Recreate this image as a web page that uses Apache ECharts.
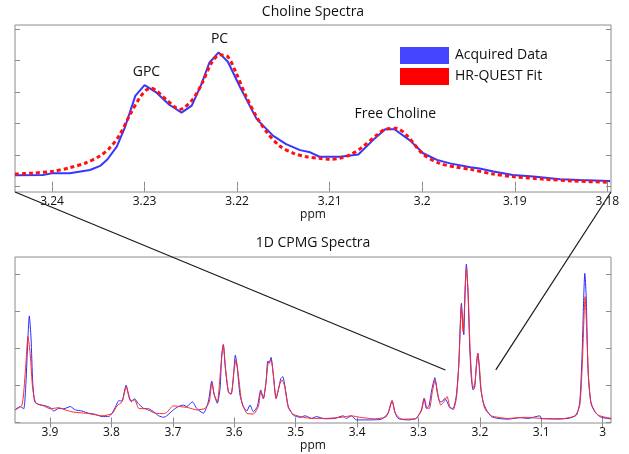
<!DOCTYPE html>
<html>
<head>
<meta charset="utf-8">
<script src="https://cdn.jsdelivr.net/npm/echarts@6/dist/echarts.min.js"></script>
<style>
html,body{margin:0;padding:0;background:#fff;}
#chart{width:629px;height:454px;}
</style>
</head>
<body>
<div id="chart"></div>
<script>
// ---------- data (ppm, intensity in arbitrary units) ----------
const cholineAcquired = [
  [3.2440,0.36],[3.2410,0.37],[3.2399,0.43],[3.2381,0.43],[3.2359,0.53],[3.2348,0.66],[3.2340,0.87],
  [3.2330,1.27],[3.2321,1.90],[3.2310,2.88],[3.2300,3.22],[3.2287,2.98],[3.2273,2.59],[3.2269,2.52],
  [3.2260,2.35],[3.2249,2.57],[3.2239,3.22],[3.2230,3.93],[3.2220,4.26],[3.2210,3.96],[3.2197,3.17],
  [3.2179,2.15],[3.2161,1.61],[3.2147,1.35],[3.2132,1.16],[3.2121,1.09],[3.2111,0.95],[3.2089,0.95],
  [3.2069,1.02],[3.2051,1.54],[3.2040,1.82],[3.2030,1.82],[3.2013,1.46],[3.1999,1.06],[3.1984,0.85],
  [3.1970,0.74],[3.1948,0.62],[3.1938,0.58],[3.1923,0.48],[3.1902,0.37],[3.1880,0.32],[3.1851,0.24],
  [3.1830,0.21],[3.1797,0.18]
];
const cholineFit = [
  [3.2440,0.40],[3.2421,0.43],[3.2399,0.49],[3.2381,0.60],[3.2363,0.76],[3.2348,0.98],[3.2338,1.22],
  [3.2327,1.64],[3.2316,2.27],[3.2305,2.83],[3.2298,3.07],[3.2293,3.12],[3.2276,2.75],[3.2262,2.45],
  [3.2248,2.77],[3.2237,3.33],[3.2228,3.91],[3.2219,4.18],[3.2210,4.12],[3.2201,3.60],[3.2190,2.85],
  [3.2179,2.22],[3.2168,1.73],[3.2154,1.29],[3.2139,1.06],[3.2125,0.95],[3.2111,0.90],[3.2100,0.87],
  [3.2089,0.90],[3.2078,1.01],[3.2064,1.27],[3.2049,1.64],[3.2039,1.83],[3.2028,1.85],[3.2017,1.64],
  [3.1999,1.03],[3.1981,0.74],[3.1963,0.62],[3.1948,0.55],[3.1923,0.40],[3.1902,0.32],[3.1869,0.24],
  [3.1837,0.18],[3.1797,0.14]
];
const cpmgAcquired = [
  [3.957,0.34],[3.9484,0.43],[3.9428,0.37],[3.9391,1.10],[3.9363,2.18],[3.9337,2.88],[3.9309,2.28],
  [3.9282,1.10],[3.9249,0.56],[3.9184,0.49],[3.9077,0.45],[3.8995,0.40],[3.8940,0.31],[3.8858,0.38],
  [3.8777,0.37],[3.8669,0.43],[3.8588,0.34],[3.8479,0.31],[3.8370,0.25],[3.8262,0.22],[3.8153,0.16],
  [3.8044,0.16],[3.7990,0.25],[3.7925,0.45],[3.7881,0.59],[3.7827,0.58],[3.7795,0.79],[3.7762,1.01],
  [3.7718,0.74],[3.7676,0.56],[3.7621,0.64],[3.7567,0.52],[3.7474,0.38],[3.7393,0.37],[3.7311,0.29],
  [3.7230,0.18],[3.7148,0.14],[3.7099,0.18],[3.6992,0.34],[3.6910,0.43],[3.6829,0.47],[3.6774,0.43],
  [3.6682,0.56],[3.6611,0.38],[3.6503,0.25],[3.6422,0.56],[3.6366,1.12],[3.6324,0.74],[3.6275,0.52],
  [3.6231,0.92],[3.6204,1.82],[3.6178,2.10],[3.6145,1.47],[3.6096,0.83],[3.6052,0.76],[3.6015,1.20],
  [3.5982,1.82],[3.5950,1.47],[3.5906,0.74],[3.5852,0.43],[3.5796,0.31],[3.5743,0.47],[3.5689,0.29],
  [3.5624,0.43],[3.5568,0.88],[3.5526,0.65],[3.5482,1.10],[3.5454,1.66],[3.5428,1.60],[3.5401,1.76],
  [3.5363,1.28],[3.5319,0.65],[3.5275,0.92],[3.5243,1.18],[3.5210,1.24],[3.5178,1.01],[3.5119,0.43],
  [3.5038,0.20],[3.4928,0.14],[3.4847,0.18],[3.4738,0.11],[3.4663,0.16],[3.4526,0.10],[3.4363,0.11],
  [3.4228,0.18],[3.4174,0.11],[3.4093,0.18],[3.4011,0.07],[3.3821,0.07],[3.3604,0.09],[3.3495,0.25],
  [3.3430,0.59],[3.3386,0.29],[3.3332,0.11],[3.3169,0.07],[3.3034,0.11],[3.2953,0.34],[3.2909,0.65],
  [3.2871,0.38],[3.2832,0.43],[3.2779,0.92],[3.2734,1.21],[3.2692,0.79],[3.2653,0.56],[3.2616,0.56],
  [3.2572,0.65],[3.2534,0.56],[3.2490,0.40],[3.2436,0.38],[3.2383,0.74],[3.2344,1.55],[3.2301,3.22],
  [3.2279,2.72],[3.2262,2.37],[3.2241,3.63],[3.2220,4.28],[3.2192,3.45],[3.2165,2.01],[3.2139,1.20],
  [3.2111,0.88],[3.2084,0.97],[3.2057,1.55],[3.2034,1.87],[3.2013,1.55],[3.1986,0.92],[3.1948,0.56],
  [3.1894,0.34],[3.1813,0.16],[3.1704,0.11],[3.1541,0.09],[3.1350,0.13],[3.1215,0.11],[3.1024,0.18],
  [3.0998,0.10],[3.0780,0.10],[3.0564,0.11],[3.0428,0.20],[3.0373,0.56],[3.0336,1.82],[3.0308,3.45],
  [3.0292,4.03],[3.0270,3.45],[3.0238,1.37],[3.0194,0.56],[3.0129,0.29],[3.0047,0.16],[2.9940,0.11],
  [2.9865,0.10]
];
const cpmgFit = [
  [3.957,0.34],[3.9456,0.47],[3.9402,1.37],[3.9358,2.32],[3.9321,1.82],[3.9282,0.92],[3.9228,0.52],
  [3.9103,0.45],[3.8995,0.37],[3.8858,0.40],[3.8751,0.34],[3.8614,0.28],[3.8370,0.24],[3.8153,0.18],
  [3.7990,0.24],[3.7909,0.45],[3.7827,0.56],[3.7757,0.97],[3.7692,0.59],[3.7621,0.61],[3.7555,0.38],
  [3.7448,0.37],[3.7285,0.25],[3.7148,0.24],[3.7099,0.27],[3.6992,0.45],[3.6883,0.43],[3.6748,0.40],
  [3.6611,0.34],[3.6476,0.38],[3.6406,0.56],[3.6366,1.06],[3.6324,0.74],[3.6275,0.56],[3.6220,1.47],
  [3.6178,2.11],[3.6139,1.42],[3.6085,0.79],[3.6047,0.79],[3.6003,1.42],[3.5971,1.69],[3.5933,1.28],
  [3.5878,0.56],[3.5796,0.25],[3.5689,0.23],[3.5608,0.43],[3.5568,0.83],[3.5526,0.64],[3.5482,1.10],
  [3.5445,1.63],[3.5401,1.69],[3.5363,1.28],[3.5319,0.65],[3.5265,1.01],[3.5221,1.15],[3.5178,0.97],
  [3.5119,0.40],[3.5038,0.22],[3.4875,0.14],[3.4738,0.11],[3.4526,0.11],[3.4256,0.14],[3.4093,0.18],
  [3.3956,0.14],[3.3712,0.10],[3.3523,0.16],[3.3430,0.59],[3.3376,0.25],[3.3279,0.09],[3.3060,0.10],
  [3.2953,0.31],[3.2904,0.65],[3.2865,0.40],[3.2822,0.38],[3.2774,0.83],[3.2730,1.15],[3.2681,0.74],
  [3.2637,0.47],[3.2583,0.56],[3.2534,0.70],[3.2490,0.43],[3.2436,0.34],[3.2383,0.65],[3.2344,1.55],
  [3.2301,3.13],[3.2274,2.45],[3.2246,3.27],[3.2220,4.17],[3.2192,3.54],[3.2160,2.01],[3.2127,1.10],
  [3.2094,0.92],[3.2057,1.51],[3.2034,1.87],[3.2008,1.51],[3.1976,0.83],[3.1920,0.38],[3.1813,0.18],
  [3.1541,0.11],[3.1269,0.14],[3.0998,0.11],[3.0726,0.09],[3.0454,0.18],[3.0373,0.47],[3.0331,1.64],
  [3.0303,2.91],[3.0287,3.40],[3.0266,2.72],[3.0227,1.10],[3.0184,0.47],[3.0075,0.20],[2.9858,0.11]
];
const cholineTicks = [3.18, 3.19, 3.20, 3.21, 3.22, 3.23, 3.24];
const cpmgTicks = [3.0, 3.1, 3.2, 3.3, 3.4, 3.5, 3.6, 3.7, 3.8, 3.9];
const cholineLevelTicks = [0, 1, 2, 3, 4, 5];
const cpmgLevelTicks = [0, 1, 2, 3, 4];
const peakNames = ['GPC', 'PC', 'Free Choline'];
const peakLabelPpm = [3.2298, 3.2219, 3.2029];
const peakLabelLevel = [3.64, 4.68, 2.30];
// zoomed region of the CPMG spectrum that the top panel shows (end points of the guide lines)
const zoomGuidePpm = [3.2562, 3.1741];
const zoomGuideLevel = 1.42;

// ---------- ranges & style ----------
const F = '"Open Sans", "Liberation Sans", sans-serif';
const BOX = '#8c8c8c';
const topX = {min: 3.1796, max: 3.2440};
const topY = {min: -0.168, max: 5.127};
const botX = {min: 2.9865, max: 3.957};
const botY = {min: -0.014, max: 4.473};

function xAx(grid, r, ticks, pos, labels, name) {
  return {
    type: 'value', gridIndex: grid, position: pos, inverse: true, min: r.min, max: r.max,
    axisLine: {show: false}, splitLine: {show: false},
    axisTick: {show: true, inside: true, length: 5, customValues: ticks, lineStyle: {color: BOX, width: 1}},
    axisLabel: {show: labels, customValues: ticks, margin: 4, color: '#111', fontSize: 12, fontFamily: F,
      formatter: v => String(Number(v.toFixed(2)))},
    name: name || '', nameLocation: 'middle', nameGap: 17,
    nameTextStyle: {color: '#111', fontSize: 12, fontFamily: F}
  };
}
function yAx(grid, r, ticks, pos) {
  return {
    type: 'value', gridIndex: grid, position: pos, min: r.min, max: r.max,
    axisLine: {show: false}, splitLine: {show: false},
    axisTick: {show: true, inside: true, length: 5, customValues: ticks, lineStyle: {color: BOX, width: 1}},
    axisLabel: {show: false}
  };
}

const chart = echarts.init(document.getElementById('chart'), null, {renderer: 'canvas'});
const titleStyle = {fontSize: 14, fontWeight: 'normal', fontFamily: F, color: '#111'};
chart.setOption({
  animation: false,
  backgroundColor: '#fff',
  title: [
    {text: 'Choline Spectra', left: 313, top: 5, textAlign: 'center', padding: 0, textStyle: titleStyle},
    {text: '1D CPMG Spectra', left: 313, top: 236, textAlign: 'center', padding: 0, textStyle: titleStyle}
  ],
  legend: {
    data: ['Acquired Data', 'HR-QUEST Fit'],
    orient: 'vertical', left: 400, top: 47, padding: 0,
    itemWidth: 49, itemHeight: 17, itemGap: 4, icon: 'rect',
    itemStyle: {borderWidth: 0},
    textStyle: {fontSize: 14, fontFamily: F, color: '#111', padding: [0, 0, 0, 1]}
  },
  grid: [
    {left: 15, right: 18, top: 25, height: 167, show: true, borderColor: BOX, borderWidth: 1, backgroundColor: 'transparent'},
    {left: 15, right: 18, top: 257, height: 166, show: true, borderColor: BOX, borderWidth: 1, backgroundColor: 'transparent'}
  ],
  xAxis: [
    xAx(0, topX, cholineTicks, 'bottom', true, 'ppm'),
    xAx(0, topX, cholineTicks, 'top', false),
    xAx(1, botX, cpmgTicks, 'bottom', true, 'ppm'),
    xAx(1, botX, cpmgTicks, 'top', false)
  ],
  yAxis: [
    yAx(0, topY, cholineLevelTicks, 'left'),
    yAx(0, topY, cholineLevelTicks, 'right'),
    yAx(1, botY, cpmgLevelTicks, 'left'),
    yAx(1, botY, cpmgLevelTicks, 'right')
  ],
  series: [
    {name: 'Acquired Data', type: 'line', xAxisIndex: 0, yAxisIndex: 0, data: cholineAcquired,
     symbol: 'none', z: 2, itemStyle: {color: '#4545ff'}, lineStyle: {color: '#3636ff', width: 2}},
    {name: 'HR-QUEST Fit', type: 'line', xAxisIndex: 0, yAxisIndex: 0, data: cholineFit,
     symbol: 'none', smooth: 0.3, z: 3, itemStyle: {color: '#ff0000'}, lineStyle: {color: '#ff1010', width: 3, type: [4, 3]}},
    {name: 'CPMG acquired', type: 'line', xAxisIndex: 2, yAxisIndex: 2, data: cpmgAcquired,
     symbol: 'none', smooth: 0.2, z: 2, lineStyle: {color: '#2a2aff', width: 1}},
    {name: 'CPMG fit', type: 'line', xAxisIndex: 2, yAxisIndex: 2, data: cpmgFit,
     symbol: 'none', smooth: 0.2, z: 3, lineStyle: {color: '#ff2a2a', width: 1}}
  ]
});

// guide lines and peak annotations, positioned through the axes
const topFinder = {xAxisIndex: 0, yAxisIndex: 0};
const botFinder = {xAxisIndex: 2, yAxisIndex: 2};
const tl = chart.convertToPixel(topFinder, [topX.max, topY.min]);
const tr = chart.convertToPixel(topFinder, [topX.min, topY.min]);
const bl = chart.convertToPixel(botFinder, [zoomGuidePpm[0], zoomGuideLevel]);
const br = chart.convertToPixel(botFinder, [zoomGuidePpm[1], zoomGuideLevel]);
const graphics = [
  {type: 'line', shape: {x1: tl[0], y1: tl[1], x2: bl[0], y2: bl[1]}, style: {stroke: '#1a1a1a', lineWidth: 1.2}, z: 10},
  {type: 'line', shape: {x1: tr[0], y1: tr[1], x2: br[0], y2: br[1]}, style: {stroke: '#1a1a1a', lineWidth: 1.2}, z: 10}
];
peakNames.forEach((n, i) => {
  const p = chart.convertToPixel(topFinder, [peakLabelPpm[i], peakLabelLevel[i]]);
  graphics.push({type: 'text', x: p[0], y: p[1], z: 10,
    style: {text: n, fill: '#111', font: '14px ' + F, textAlign: 'center', textVerticalAlign: 'middle'}});
});
chart.setOption({graphic: graphics});
</script>
</body>
</html>
